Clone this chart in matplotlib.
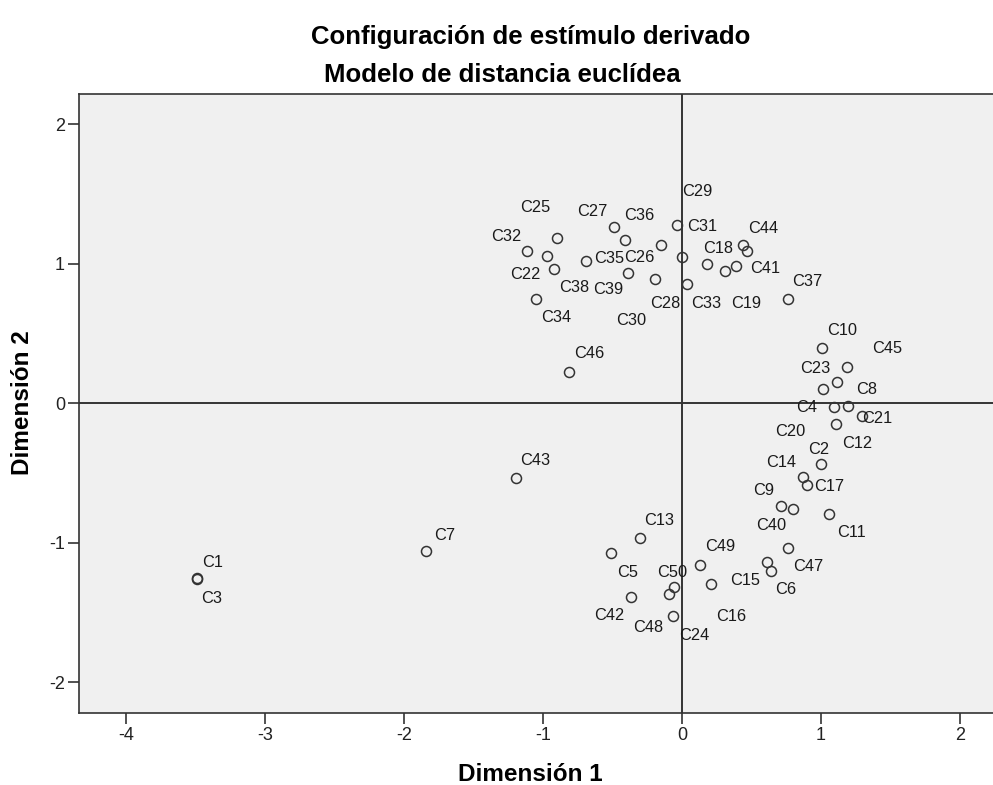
import matplotlib
matplotlib.use("Agg")
import matplotlib.pyplot as plt

DPI = 100
PX = 72 / DPI          # one pixel in points
W, H = 993, 785

# stimulus coordinates (dimension 1, dimension 2)
stimuli = ["C%d" % i for i in range(1, 51)]
dim1 = [-3.489, 0.998, -3.484, 1.017, -0.508, 0.639, -1.837, 1.192, 0.713, 1.008,
        1.058, 1.106, -0.301, 0.869, 0.610, 0.207, 0.898, 0.183, 0.391, 1.096,
        1.297, -0.972, 1.113, -0.066, -0.900, -0.150, -0.490, 0.039, -0.033, -0.196,
        -0.001, -1.116, 0.312, -1.047, -0.690, -0.411, 0.761, -0.918, -0.390, 0.797,
        0.466, -0.364, -1.193, 0.437, 1.190, -0.810, 0.765, -0.091, 0.130, -0.057]
dim2 = [-1.254, -0.436, -1.259, 0.102, -1.075, -1.200, -1.062, -0.020, -0.733, 0.395,
        -0.797, -0.147, -0.968, -0.531, -1.140, -1.297, -0.586, 0.997, 0.981, -0.025,
        -0.092, 1.052, 0.150, -1.524, 1.183, 1.131, 1.260, 0.856, 1.274, 0.888,
        1.049, 1.088, 0.949, 0.749, 1.019, 1.169, 0.749, 0.963, 0.935, -0.758,
        1.092, -1.390, -0.536, 1.133, 0.261, 0.223, -1.039, -1.369, -1.159, -1.319]

x_ticks = [-4, -3, -2, -1, 0, 1, 2]
y_ticks = [-2, -1, 0, 1, 2]

# where each label sits relative to its point, in pixels (right, down)
label_dx = [16, -2, 14, -17, 16, 15, 18, 19, -17, 20,
            22, 21, 19, -22, -22, 20, 22, 11, 10, -44,
            15, -21, -21, 21, -22, -22, -21, -22, 20, -23,
            20, -21, -19, 20, 23, 14, 19, 20, -20, -22,
            18, -22, 19, 20, 40, 20, 20, -21, 20, -2]
label_dy = [-17, -16, 18, 17, 18, 17, -17, -18, -16, -19,
            17, 18, -19, -16, 17, 31, 0, -17, 36, 23,
            1, 17, -15, 18, -32, 11, -17, 18, -35, 40,
            -32, -16, 31, 17, -4, -26, -19, 17, 15, 15,
            16, 17, -19, -18, -20, -20, 17, 32, -20, -16]

plt.rcParams['font.family'] = ['Liberation Sans', 'DejaVu Sans']
INK = '#333333'
LABEL_FS = 11.8

fig = plt.figure(figsize=(W / DPI, H / DPI), dpi=DPI)
left, top, bottom = 79, 94, 712.7
ax = fig.add_axes([left / W, 1 - bottom / H, 1 - left / W, (bottom - top) / H])
ax.set_facecolor('#f0f0f0')
ax.set_xlim(-4.336, 2.237)
ax.set_ylim(-2.217, 2.215)

ax.axhline(0, color=INK, lw=1.4, zorder=1)
ax.axvline(0, color=INK, lw=1.4, zorder=1)

ax.plot(dim1, dim2, 'o', mfc='none', mec=INK, ms=7.2, mew=1.1, zorder=3)

for name, x, y, dx, dy in zip(stimuli, dim1, dim2, label_dx, label_dy):
    ax.annotate(name, (x, y), xytext=(dx * PX, -dy * PX - 0.36 * LABEL_FS),
                textcoords='offset points', ha='center', va='baseline',
                fontsize=LABEL_FS, color='#1a1a1a', zorder=4)

for side in ['left', 'bottom', 'top']:
    ax.spines[side].set_color(INK)
    ax.spines[side].set_linewidth(1.2)
ax.spines['right'].set_visible(False)

ax.set_xticks(x_ticks)
ax.set_yticks(y_ticks)
ax.set_xticklabels([str(t) for t in x_ticks])
ax.set_yticklabels([str(t) for t in y_ticks])
ax.tick_params(length=8, width=1.2, color=INK, labelsize=13, pad=2,
               labelcolor='#222222')

fig.text(531 / W, 1 - 44 / H, "Configuración de estímulo derivado",
         ha='center', va='baseline', fontsize=18.5, fontweight='bold')
fig.text(502 / W, 1 - 82 / H, "Modelo de distancia euclídea",
         ha='center', va='baseline', fontsize=18.5, fontweight='bold')
fig.text(530 / W, 1 - 781 / H, "Dimensión 1",
         ha='center', va='baseline', fontsize=17.5, fontweight='bold')
fig.text(22.5 / W, 1 - 403 / H, "Dimensión 2", rotation=90,
         ha='center', va='center', fontsize=17.5, fontweight='bold')

fig.savefig("out.png", dpi=DPI)
